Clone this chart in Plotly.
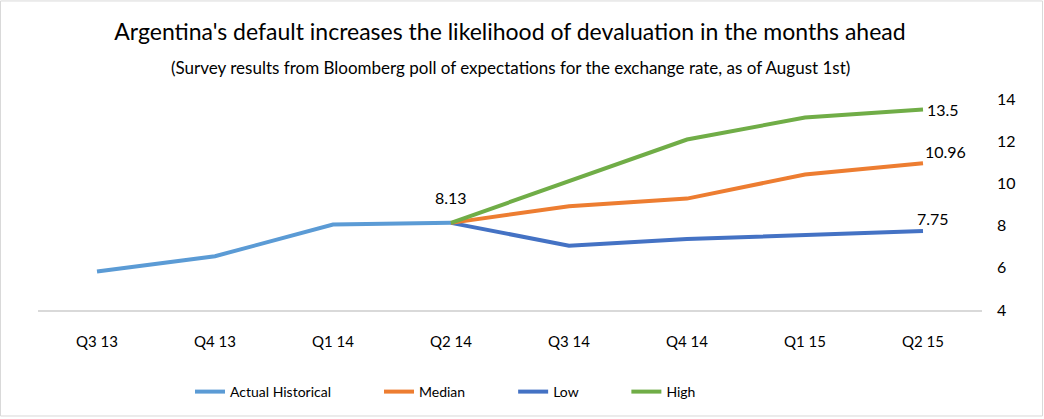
import plotly.graph_objects as go

quarters = ["Q3 13", "Q4 13", "Q1 14", "Q2 14", "Q3 14", "Q4 14", "Q1 15", "Q2 15"]
actual = [5.82, 6.55, 8.05, 8.13, None, None, None, None]
median = [None, None, None, 8.13, 8.92, 9.28, 10.42, 10.96]
low = [None, None, None, 8.13, 7.05, 7.36, 7.56, 7.75]
high = [None, None, None, 8.13, 10.12, 12.08, 13.12, 13.5]
y_ticks = [4, 6, 8, 10, 12, 14]

FONT = "Lato"
PAD = "\u00a0" * 12
fig = go.Figure()
series = [
    ("Actual Historical", actual, "#5B9BD5", 1),
    ("Low", low, "#4472C4", 3),
    ("Median", median, "#ED7D31", 2),
    ("High", high, "#70AD47", 4),
]
for name, vals, color, rank in series:
    fig.add_trace(go.Scatter(x=quarters, y=vals, name=name + (PAD if rank < 4 else ""),
                             mode="lines", line=dict(color=color, width=4),
                             legendrank=rank, connectgaps=False))

labels = [("Q2 14", 8.13, "8.13", 0, 25), ("Q2 15", 13.5, "13.5", 20, 0),
          ("Q2 15", 10.96, "10.96", 22, 12), ("Q2 15", 7.75, "7.75", 10, 12)]
for x, y, t, xs, ys in labels:
    fig.add_annotation(x=x, y=y, text=t, showarrow=False, xshift=xs, yshift=ys,
                       font=dict(family=FONT, size=16, color="#000000"))

L, R, T, B = 38, 62, 99, 108
pw, ph = 1044 - L - R, 419 - T - B
fig.add_shape(type="rect", xref="paper", yref="paper",
              x0=-(L - 0.5) / pw, x1=1 + (R - 1.5) / pw,
              y0=-(B - 1.5) / ph, y1=1 + (T - 0.5) / ph,
              line=dict(color="#D9D9D9", width=1))

fig.update_layout(
    width=1044, height=419,
    margin=dict(l=L, r=R, t=T, b=B),
    paper_bgcolor="white", plot_bgcolor="white",
    font=dict(family=FONT, size=15, color="#000000"),
    title=dict(text="Argentina's default increases the likelihood of devaluation in the months ahead",
               xref="paper", x=0.5, xanchor="center", y=1 - 32 / 419, yanchor="middle",
               font=dict(family=FONT, size=23, color="#000000")),
    xaxis=dict(range=[-0.5, 7.5], showgrid=False, showline=True, linecolor="#D9D9D9",
               linewidth=2, ticks="", tickfont=dict(size=15), ticklabelstandoff=17,
               fixedrange=True),
    yaxis=dict(side="right", range=[4, 14], tickvals=y_ticks, showgrid=False,
               zeroline=False, tickfont=dict(size=16), ticklabelstandoff=14),
    legend=dict(orientation="h", x=(200 - L - 10) / pw, xanchor="left",
                y=-(392 - 311) / ph, yanchor="middle",
                font=dict(family=FONT, size=14), tracegroupgap=0),
    showlegend=True,
)
fig.add_annotation(text="(Survey results from Bloomberg poll of expectations for the exchange rate, as of August 1st)",
                   xref="paper", yref="paper", x=0.5, y=1 + (T - 67) / ph, yanchor="middle",
                   showarrow=False, font=dict(family=FONT, size=17, color="#000000"))
fig.write_html("out.html")
